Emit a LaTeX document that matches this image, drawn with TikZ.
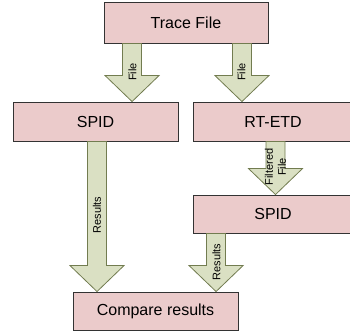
\documentclass[tikz,border=0pt]{standalone}
\usepackage{fontspec}
\setmainfont{Liberation Sans}
\usetikzlibrary{calc}
\definecolor{boxfill}{HTML}{EBCBCB}
\definecolor{boxline}{HTML}{333333}
\definecolor{arrfill}{HTML}{DAE0C3}
\definecolor{arrline}{HTML}{727C50}
\tikzset{
  box/.style={draw=boxline, fill=boxfill, line width=0.9pt, minimum height=#1, inner sep=0pt, font=\fontsize{16}{19}\selectfont},
  box/.default=39pt,
  barrowstyle/.style={draw=arrline, fill=arrfill, line width=0.8pt, line join=miter},
  alabel/.style={rotate=90, inner sep=0pt, font=\fontsize{11}{13}\selectfont, align=center}
}
% #1 start point, #2 target node anchor (gives tip y)
\newcommand\blockarrow[2]{%
  \draw[barrowstyle] let \p1=#1, \p2=#2 in
    (\x1-9.5pt,\y1) -- (\x1-9.5pt,\y2+26pt) -- (\x1-27pt,\y2+26pt) -- (\x1,\y2)
    -- (\x1+27pt,\y2+26pt) -- (\x1+9.5pt,\y2+26pt) -- (\x1+9.5pt,\y1) -- cycle;}
\begin{document}
\begin{tikzpicture}[x=1pt,y=-1pt]
\useasboundingbox (0,0) rectangle (350,334);
\clip (0,0) rectangle (350,334);
\node[box=41pt, minimum width=164pt] (trace) at (186,22.5) {Trace File};
\node[box, minimum width=165pt] (spidL) at (95.5,121.5) {SPID};
\node[box, minimum width=160pt] (rtetd) at (273,121.5) {RT-ETD};
\node[box=38pt, minimum width=160pt] (spidR) at (273,214) {SPID};
\node[box=38pt, minimum width=165pt] (compare) at (155.5,311) {Compare results};
\blockarrow{($(trace.south west)+(28.5,0)$)}{(spidL.north)}
\blockarrow{($(trace.south east)+(-26.5,0)$)}{(rtetd.north)}
\blockarrow{($(spidL.south)+(1.5,0)$)}{(compare.north)}
\blockarrow{($(rtetd.south)+(2.5,0)$)}{(spidR.north)}
\blockarrow{($(spidR.south west)+(23.5,0)$)}{(compare.north)}
\node[alabel] (l1) at (132.5,72) {File};
\node[alabel] (l2) at (241.5,72) {File};
\node[alabel] (l3) at (97,215) {Results};
\node[alabel] (l4) at (275.5,167) {Filtered\\File};
\node[alabel] (l5) at (216.5,262) {Results};
\end{tikzpicture}
\end{document}
